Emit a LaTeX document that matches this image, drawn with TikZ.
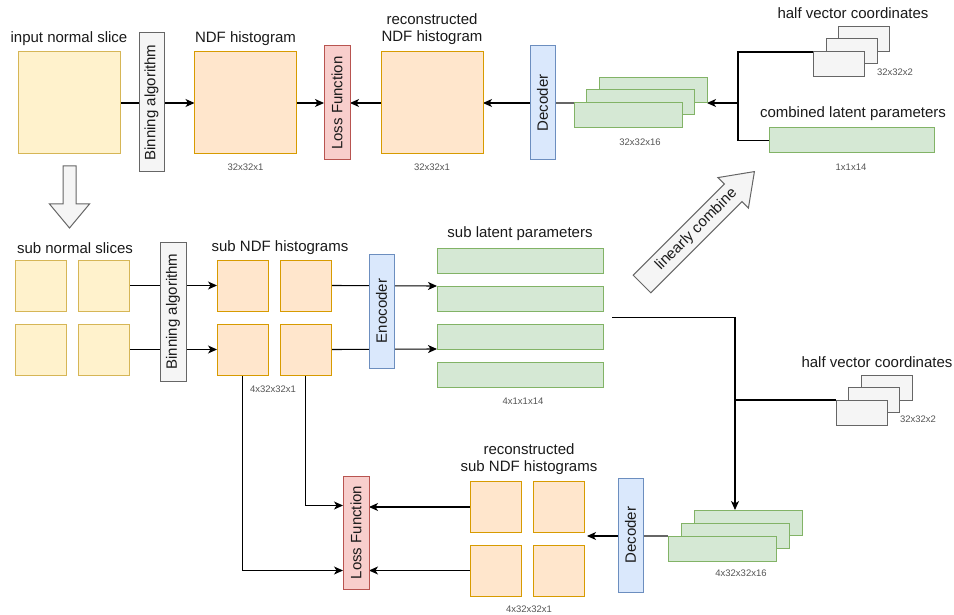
\documentclass[tikz,border=0pt]{standalone}
\usepackage{fontspec}
\setmainfont{Liberation Sans}
\usetikzlibrary{arrows.meta,calc}
\pgfdeclarelayer{bg}
\pgfsetlayers{bg,main}

\definecolor{yelF}{HTML}{FFF2CC}\definecolor{yelD}{HTML}{D6B656}
\definecolor{orgF}{HTML}{FFE6CC}\definecolor{orgD}{HTML}{D79B00}
\definecolor{redF}{HTML}{F8CECC}\definecolor{redD}{HTML}{B85450}
\definecolor{bluF}{HTML}{DAE8FC}\definecolor{bluD}{HTML}{6C8EBF}
\definecolor{grnF}{HTML}{D5E8D4}\definecolor{grnD}{HTML}{82B366}
\definecolor{gryF}{HTML}{F5F5F5}\definecolor{gryD}{HTML}{666666}
\definecolor{txt}{HTML}{1A1A1A}
\definecolor{txtS}{HTML}{555555}
\definecolor{lineG}{HTML}{666666}

\tikzset{
  box/.style={rectangle, draw, line width=1pt, inner sep=0pt, outer sep=0pt},
  yel/.style={box, fill=yelF, draw=yelD},
  org/.style={box, fill=orgF, draw=orgD},
  redb/.style={box, fill=redF, draw=redD},
  blu/.style={box, fill=bluF, draw=bluD},
  grn/.style={box, fill=grnF, draw=grnD},
  gry/.style={box, fill=gryF, draw=gryD},
  wh/.style 2 args={minimum width=#1pt, minimum height=#2pt},
  lab/.style={font=\fontsize{15}{17}\selectfont, text=txt, inner sep=0pt, align=center},
  small/.style={font=\fontsize{9.5}{11}\selectfont, text=txtS, inner sep=0pt},
  vlab/.style={lab, rotate=90},
  arr/.style={draw=black, line width=1.1pt, -{Stealth[length=9pt,width=8pt,inset=2.5pt]}},
  ln/.style={draw=black, line width=1.1pt},
  gln/.style={draw=lineG, line width=1.5pt},
  blockarrow/.style={fill=gryF, draw=gryD, line width=1pt, line join=miter},
}

\begin{document}
\begin{tikzpicture}[x=1pt, y=-1pt]
\useasboundingbox (0,0) rectangle (954,615);

% ---------- top row: full-resolution pass ----------
\node[yel, wh={102}{102}] (in)   at (69,103) {};
\node[gry, wh={25}{139}]  (bin1) at (151.5,102.5) {};
\node[vlab] (bin1t) at (bin1) {Binning algorithm};
\node[org, wh={102}{102}] (ndf)  at (245.5,103) {};
\node[redb, wh={26}{114}] (loss1) at (337,103) {};
\node[vlab] (loss1t) at (loss1) {Loss Function};
\node[org, wh={102}{102}] (rec)  at (432,103) {};
\node[blu, wh={25}{114}]  (dec1) at (542.5,103) {};
\node[vlab] (dec1t) at (dec1) {Decoder};

\node[lab]   (inL)   at (69,39)  {input normal slice};
\node[lab]   (ndfL)  at (245.5,39) {NDF histogram};
\node[small] (ndfS)  at (245.5,167) {32x32x1};
\node[lab]   (recL)  at (432,29) {reconstructed\\NDF histogram};
\node[small] (recS)  at (432,167) {32x32x1};

% stacked feature maps 32x32x16
\node[grn, wh={108}{25}] (g1b) at (653,90.5) {};
\node[grn, wh={108}{25}] (g1m) at (640.5,102.5) {};
\node[grn, wh={108}{25}] (g1f) at (628.5,115.5) {};
\node[small] (g1S) at (640,142) {32x32x16};

% half vector coordinates (top)
\node[gry, wh={51}{25}] (hv1b) at (864,39.5) {};
\node[gry, wh={51}{25}] (hv1m) at (851.5,51.5) {};
\node[gry, wh={51}{25}] (hv1f) at (838.5,64.5) {};
\node[lab]   (hv1L) at (853,13) {half vector coordinates};
\node[small] (hv1S) at (895,72) {32x32x2};

% combined latent parameters
\node[grn, wh={165}{25}] (comb) at (851.5,140.5) {};
\node[lab]   (combL) at (853,114) {combined latent parameters};
\node[small] (combS) at (851,167) {1x1x14};

\coordinate (j1) at (738,103);

% ---------- bottom: sub-slice pass ----------
\node[yel, wh={51}{51}] (s11) at (40.5,285.5) {};
\node[yel, wh={51}{51}] (s12) at (103.5,285.5) {};
\node[yel, wh={51}{51}] (s21) at (40.5,349.5) {};
\node[yel, wh={51}{51}] (s22) at (103.5,349.5) {};
\node[lab] (sL) at (75,248) {sub normal slices};

\node[gry, wh={26}{139}] (bin2) at (173,311.5) {};
\node[vlab] (bin2t) at (bin2) {Binning algorithm};

\node[org, wh={51}{51}] (h11) at (242.5,285.5) {};
\node[org, wh={51}{51}] (h12) at (305.5,285.5) {};
\node[org, wh={51}{51}] (h21) at (242.5,349.5) {};
\node[org, wh={51}{51}] (h22) at (305.5,349.5) {};
\node[lab]   (hL) at (280,248) {sub NDF histograms};
\node[small] (hS) at (273,389) {4x32x32x1};

\node[blu, wh={25}{114}] (enc) at (381.5,311) {};
\node[vlab] (enct) at (enc) {Enocoder};

\node[grn, wh={166}{25}] (lat1) at (520,260.5) {};
\node[grn, wh={166}{25}] (lat2) at (520,298.5) {};
\node[grn, wh={166}{25}] (lat3) at (520,336.5) {};
\node[grn, wh={166}{25}] (lat4) at (520,374.5) {};
\node[lab]   (latL) at (520,234) {sub latent parameters};
\node[small] (latS) at (523,401) {4x1x1x14};
\coordinate (latout) at (612,317.5);

% half vector coordinates (bottom)
\node[gry, wh={51}{25}] (hv2b) at (886.5,387.5) {};
\node[gry, wh={51}{25}] (hv2m) at (873.5,399.5) {};
\node[gry, wh={51}{25}] (hv2f) at (861.5,412.5) {};
\node[lab]   (hv2L) at (877,362) {half vector coordinates};
\node[small] (hv2S) at (918,419) {32x32x2};
\coordinate (j2) at (735,400);

% stacked feature maps 4x32x32x16
\node[grn, wh={108}{25}] (g2b) at (748,522.5) {};
\node[grn, wh={108}{25}] (g2m) at (735,535.5) {};
\node[grn, wh={108}{25}] (g2f) at (722,548.5) {};
\node[small] (g2S) at (741,573) {4x32x32x16};

\node[blu, wh={25}{114}] (dec2) at (630.5,535) {};
\node[vlab] (dec2t) at (dec2) {Decoder};

\node[org, wh={51}{51}] (r11) at (495.5,507) {};
\node[org, wh={51}{51}] (r12) at (558.5,507) {};
\node[org, wh={51}{51}] (r21) at (495.5,570.5) {};
\node[org, wh={51}{51}] (r22) at (558.5,570.5) {};
\node[lab]   (rL) at (529,459.5) {reconstructed\\sub NDF histograms};
\node[small] (rS) at (529,609) {4x32x32x1};

\node[redb, wh={26}{113}] (loss2) at (356,532.5) {};
\node[vlab] (loss2t) at (loss2) {Loss Function};

% ---------- block arrows ----------
\draw[blockarrow] (63,166) -- (76,166) -- (76,204) -- (89.5,204) -- (69.5,228)
  -- (49.5,204) -- (63,204) -- cycle;
\begin{scope}[shift={(642,284)}, rotate=45]
  \draw[blockarrow] (0,-12.5) -- (129,-12.5) -- (129,-21.5) -- (159,0)
    -- (129,21.5) -- (129,12.5) -- (0,12.5) -- cycle;
  \node[lab, rotate=45] (combT) at (77,0) {linearly combine};
\end{scope}

% ---------- connectors ----------
\begin{pgfonlayer}{bg}
  \draw[arr] (in.east) -- (ndf.west);
  \draw[arr] (ndf.east) -- (loss1.west);
  \draw[arr] (rec.west) -- (loss1.east);
  \draw[arr] (dec1.west) -- (rec.east);
  \draw[gln] (dec1.east) -- (g1f.north west);
  \draw[ln] (hv1f.north west) -| (j1) |- (comb.west);
  \draw[arr] (j1) -- (g1b.south east);

  \draw[arr] (s12.east) -- (h11.west);
  \draw[arr] (s22.east) -- (h21.west);
  \draw[arr] (h12.east) -- (lat2.north west);
  \draw[arr] (h22.east) -- (lat3.south west);
  \draw[ln] (latout) -| (j2);
  \draw[ln] (hv2f.north west) -- (j2);
  \draw[arr] (j2) -- (j2 |- g2b.north);
  \draw[gln] (g2f.north west) -- (g2f.north west -| dec2.east);
  \draw[arr] (dec2.west |- g2f.north west) -- ([xshift=3pt]r12.east |- g2f.north west);
  \draw[arr] (r11.west) -- (r11.west -| loss2.east);
  \draw[arr] (r21.west) -- (r21.west -| loss2.east);
  \draw[arr] (h22.south) |- ([yshift=1.5pt]loss2.west |- r11.west);
  \draw[arr] (h21.south) |- (loss2.west |- r21.west);
\end{pgfonlayer}
\end{tikzpicture}
\end{document}
